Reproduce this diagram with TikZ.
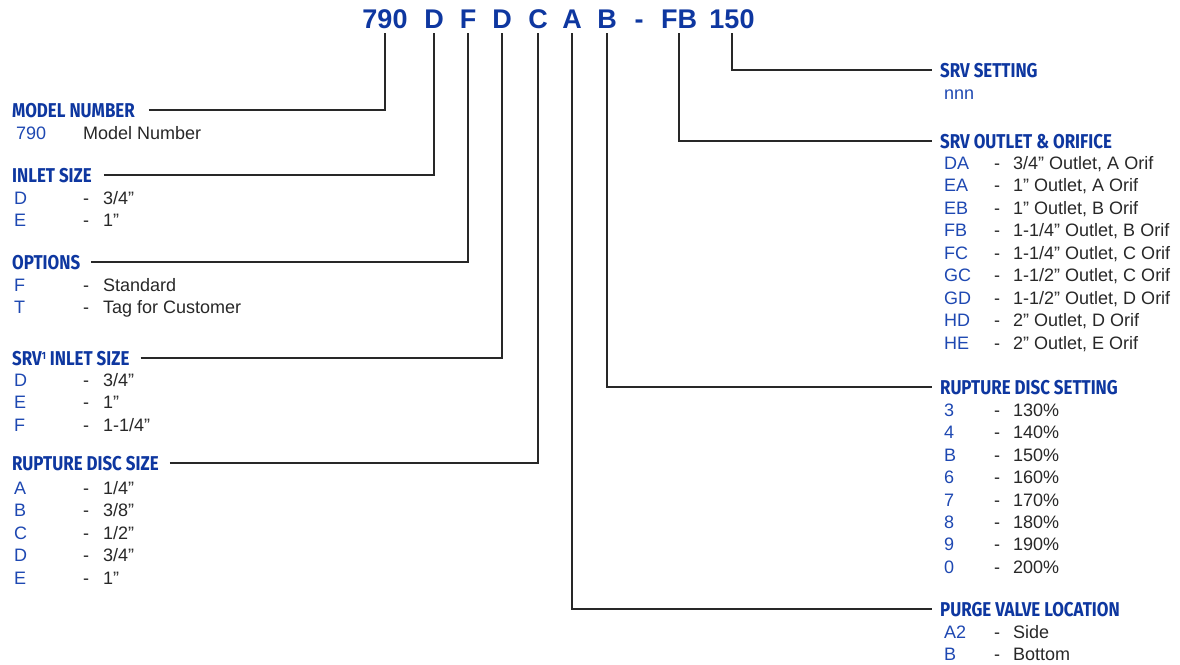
\documentclass[tikz,border=0pt]{standalone}
\usepackage{fontspec}
\setmainfont{Liberation Sans}
\newfontfamily\headfont[FakeStretch=0.845]{Fira Sans}
\definecolor{codeblue}{RGB}{14,55,160}
\definecolor{keyblue}{RGB}{30,72,178}
\definecolor{textgray}{RGB}{40,40,40}
\definecolor{leadgray}{RGB}{40,40,40}
\tikzset{
    code/.style={font=\fontsize{27}{27}\selectfont\bfseries, text=codeblue, inner xsep=0pt, inner ysep=5pt, text height=20pt, text depth=0pt, anchor=base},
    head/.style={font=\headfont\bfseries\fontsize{20}{20}\selectfont, text=codeblue, inner sep=0pt, text height=14.5pt, text depth=0pt, anchor=west},
    key/.style={font=\fontsize{18}{18}\selectfont, text=keyblue, inner sep=0pt, anchor=base west},
    txt/.style={font=\fontsize{18}{18}\selectfont, text=textgray, inner sep=0pt, anchor=base west},
    sepdash/.style={txt, anchor=base},
    lead/.style={draw=leadgray, line width=1.6pt}
}

\begin{document}
\begin{tikzpicture}[x=1pt,y=-1pt]
    \useasboundingbox[fill=white] (0,0) rectangle (1180,664);

    % the ordering code
    \node[code] (c790) at (385,28) {790};
    \node[code] (cD) at (434,28) {D};
    \node[code] (cF) at (468,28) {F};
    \node[code] (cDs) at (502,28) {D};
    \node[code] (cC) at (538,28) {C};
    \node[code] (cA) at (572,28) {A};
    \node[code] (cB) at (607,28) {B};
    \node[code] (cdash) at (639,28) {-};
    \node[code] (cFB) at (679,28) {FB};
    \node[code] (c150) at (732,28) {150};

    % left column
    \node[head] (hModel) at (12,110) {MODEL NUMBER};
    \node[key] (mk0) at (16,139.5) {790};
    \node[txt] (mv0) at (83,139.5) {Model Number};

    \node[head] (hInlet) at (12,175) {INLET SIZE};
    \foreach \k/\v [count=\i from 0] in {D/{3/4”}, E/{1”}}{
        \node[key] (ik\i) at (14,204.5+22.4*\i) {\k};
        \node[sepdash] (id\i) at (86,204.5+22.4*\i) {-};
        \node[txt] (iv\i) at (103,204.5+22.4*\i) {\v};
    }

    \node[head] (hOpt) at (12,262) {OPTIONS};
    \foreach \k/\v [count=\i from 0] in {F/Standard, T/Tag for Customer}{
        \node[key] (ok\i) at (14,291.5+22.4*\i) {\k};
        \node[sepdash] (od\i) at (86,291.5+22.4*\i) {-};
        \node[txt] (ov\i) at (103,291.5+22.4*\i) {\v};
    }

    \node[head] (hSrvIn) at (12,358) {SRV\raisebox{5.5pt}{\fontsize{10.5}{10.5}\selectfont 1} INLET SIZE};
    \foreach \k/\v [count=\i from 0] in {D/{3/4”}, E/{1”}, F/{1-1/4”}}{
        \node[key] (sk\i) at (14,386.5+22.4*\i) {\k};
        \node[sepdash] (sd\i) at (86,386.5+22.4*\i) {-};
        \node[txt] (sv\i) at (103,386.5+22.4*\i) {\v};
    }

    \node[head] (hDisc) at (12,463) {RUPTURE DISC SIZE};
    \foreach \k/\v [count=\i from 0] in {A/{1/4”}, B/{3/8”}, C/{1/2”}, D/{3/4”}, E/{1”}}{
        \node[key] (dk\i) at (14,494.5+22.4*\i) {\k};
        \node[sepdash] (dd\i) at (86,494.5+22.4*\i) {-};
        \node[txt] (dv\i) at (103,494.5+22.4*\i) {\v};
    }

    % right column
    \node[head] (hSet) at (940,70) {SRV SETTING};
    \node[key] (nk0) at (944,99.5) {nnn};

    \node[head] (hOut) at (940,141) {SRV OUTLET \& ORIFICE};
    \foreach \k/\v [count=\i from 0] in {DA/{3/4” Outlet, A Orif}, EA/{1” Outlet, A Orif}, EB/{1” Outlet, B Orif},
        FB/{1-1/4” Outlet, B Orif}, FC/{1-1/4” Outlet, C Orif}, GC/{1-1/2” Outlet, C Orif},
        GD/{1-1/2” Outlet, D Orif}, HD/{2” Outlet, D Orif}, HE/{2” Outlet, E Orif}}{
        \node[key] (uk\i) at (944,169.5+22.45*\i) {\k};
        \node[sepdash] (ud\i) at (997,169.5+22.45*\i) {-};
        \node[txt] (uv\i) at (1013,169.5+22.45*\i) {\v};
    }

    \node[head] (hRds) at (940,387) {RUPTURE DISC SETTING};
    \foreach \k/\v [count=\i from 0] in {3/130\%, 4/140\%, B/150\%, 6/160\%, 7/170\%, 8/180\%, 9/190\%, 0/200\%}{
        \node[key] (rk\i) at (944,416.5+22.4*\i) {\k};
        \node[sepdash] (rd\i) at (997,416.5+22.4*\i) {-};
        \node[txt] (rv\i) at (1013,416.5+22.4*\i) {\v};
    }

    \node[head] (hPurge) at (940,609) {PURGE VALVE LOCATION};
    \foreach \k/\v [count=\i from 0] in {A2/Side, B/Bottom}{
        \node[key] (pk\i) at (944,638.5+22.4*\i) {\k};
        \node[sepdash] (pd\i) at (997,638.5+22.4*\i) {-};
        \node[txt] (pv\i) at (1013,638.5+22.4*\i) {\v};
    }

    % leaders
    \draw[lead, shorten <=14pt] (hModel.east) -| (c790.south);
    \draw[lead, shorten <=12pt] (hInlet.east) -| (cD.south);
    \draw[lead, shorten <=11pt] (hOpt.east) -| (cF.south);
    \draw[lead, shorten <=11pt] (hSrvIn.east) -| (cDs.south);
    \draw[lead, shorten <=11pt] (hDisc.east) -| (cC.south);
    \draw[lead, shorten >=8pt] (c150.south) |- (hSet.west);
    \draw[lead, shorten >=8pt] (cFB.south) |- (hOut.west);
    \draw[lead, shorten >=8pt] (cB.south) |- (hRds.west);
    \draw[lead, shorten >=8pt] (cA.south) |- (hPurge.west);

\end{tikzpicture}
\end{document}
